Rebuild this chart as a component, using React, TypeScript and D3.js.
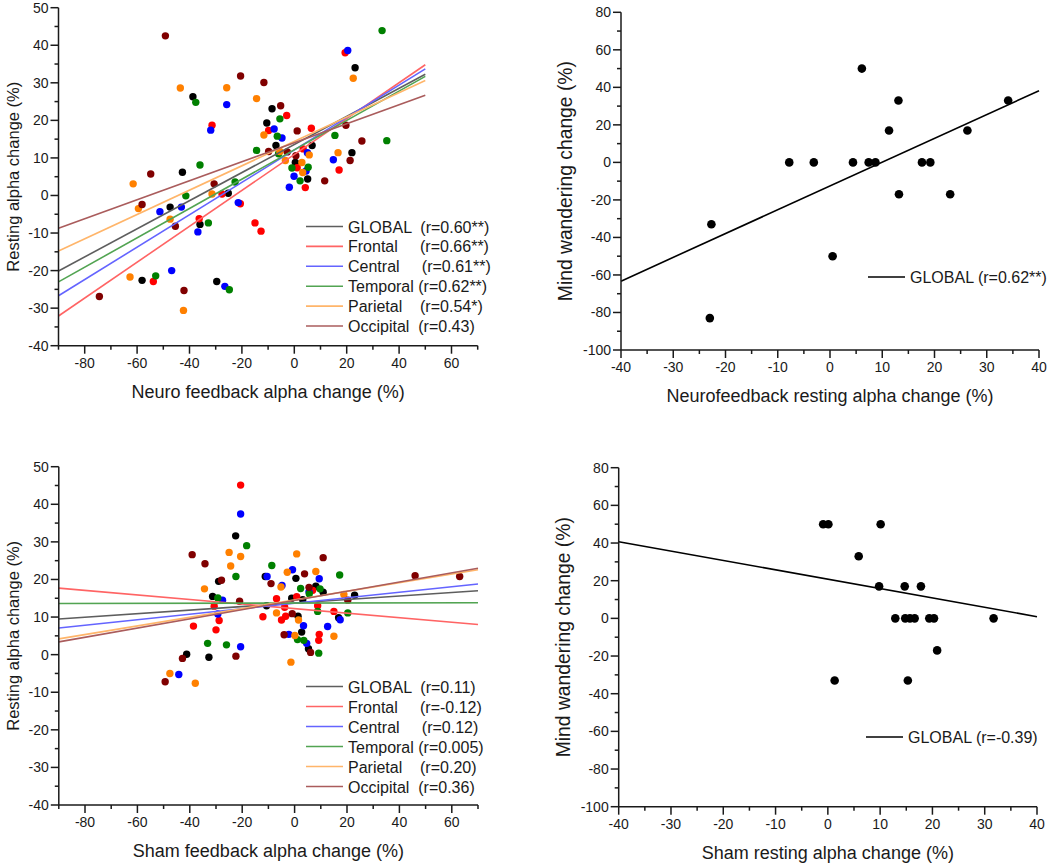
import * as d3 from 'd3'

const FONT = '"Liberation Sans", Arial, Helvetica, sans-serif'

// regions and colours
const regionNames = ['GLOBAL', 'Frontal', 'Central', 'Temporal', 'Parietal', 'Occipital']
const dotColors = ['#000000', '#ff0000', '#0000ff', '#008000', '#ff8000', '#800000']
const fitColors = ['#5e5e5e', '#ff6464', '#6464ff', '#52a452', '#ffb56a', '#aa5c5c']

// legend labels (spaces kept as in the original)
const nfLegend = [
  'GLOBAL  (r=0.60**)',
  'Frontal     (r=0.66**)',
  'Central     (r=0.61**)',
  'Temporal (r=0.62**)',
  'Parietal    (r=0.54*)',
  'Occipital  (r=0.43)',
]
const shLegend = [
  'GLOBAL  (r=0.11)',
  'Frontal     (r=-0.12)',
  'Central     (r=0.12)',
  'Temporal (r=0.005)',
  'Parietal    (r=0.20)',
  'Occipital  (r=0.36)',
]

// neurofeedback: [feedback alpha change, resting alpha change]
const nfGlobal = [[-38.7, 26.3], [-42.7, 6.2], [-8.5, 23.1], [-10.5, 19.3], [-7.0, 13.3], [6.8, 13.3], [0.4, 8.8], [5.1, 4.4], [22.0, 11.4], [23.2, 34.0], [-47.4, -3.1], [-36.0, -7.7], [-58.1, -22.6], [-25.2, 0.6], [-29.6, -22.9]]
const nfFrontal = [[-31.4, 18.7], [-2.9, 21.3], [-9.8, 17.3], [6.5, 17.9], [3.4, 12.4], [1.1, 7.4], [4.2, 2.1], [17.1, 6.8], [19.4, 38.0], [-36.3, -6.2], [-53.8, -22.9], [-27.6, 0.4], [-20.6, -2.2], [-15.0, -7.3], [-12.7, -9.5]]
const nfCentral = [[-25.8, 24.2], [-7.7, 17.7], [-4.7, 15.3], [-31.9, 17.4], [5.0, 11.4], [4.5, 6.5], [-0.1, 5.1], [-1.9, 2.2], [20.4, 38.6], [14.9, 9.5], [-51.3, -4.3], [-43.1, -3.1], [-36.8, -9.7], [-46.8, -20.0], [-21.4, -1.9], [-26.5, -24.2]]
const nfTemporal = [[-37.6, 24.8], [-36.0, 8.1], [-5.5, 20.4], [-6.5, 15.8], [-14.4, 12.0], [-6.0, 11.1], [-0.9, 7.3], [5.3, 7.5], [2.2, 3.9], [-22.6, 3.6], [15.5, 16.0], [33.5, 43.9], [35.3, 14.6], [-41.4, -0.1], [-52.9, -21.4], [-32.8, -7.3], [-24.8, -25.1]]
const nfParietal = [[-43.5, 28.6], [-61.5, 3.1], [-25.8, 28.7], [-14.4, 25.8], [-11.6, 16.1], [-5.5, 11.7], [5.7, 10.8], [2.9, 8.8], [-3.4, 9.3], [3.2, 6.1], [16.7, 11.4], [22.5, 31.2], [-59.5, -3.5], [-47.4, -6.3], [-62.7, -21.7], [-42.3, -30.6], [-31.4, 0.4]]
const nfOccipital = [[-49.2, 42.5], [-54.8, 5.7], [-20.5, 31.8], [-11.6, 30.1], [-5.2, 23.9], [-9.8, 11.7], [-2.7, 11.6], [1.1, 17.2], [0.6, 10.6], [11.6, 3.9], [-30.6, 3.1], [21.3, 9.3], [19.7, 18.7], [25.8, 14.5], [-58.1, -2.4], [-45.4, -8.2], [-42.1, -25.3], [-74.4, -26.9]]

// sham
const shGlobal = [[-22.5, 31.6], [0.5, 20.3], [-11.2, 20.8], [-29.0, 19.5], [8.1, 18.2], [10.9, 16.6], [-31.3, 15.5], [-1.1, 15.0], [3.1, 14.6], [22.9, 15.8], [-10.7, 13.0], [1.3, 10.2], [16.8, 9.8], [-32.7, -0.7], [-41.2, 0.1], [2.7, 6.0], [5.3, 1.6]]
const shFrontal = [[-38.6, 7.6], [-20.6, 45.1], [6.9, 17.1], [-30.7, 12.9], [-28.8, 9.1], [-6.9, 14.9], [0.8, 15.4], [-3.8, 12.6], [-12.1, 10.1], [-3.4, 10.2], [-5.0, 9.2], [8.8, 13.0], [15.0, 11.5], [-30.0, 6.6], [9.4, 5.4], [9.2, 3.8]]
const shCentral = [[-20.6, 37.4], [-0.8, 22.6], [9.4, 20.2], [-10.5, 20.8], [-4.8, 18.4], [5.5, 16.7], [-27.5, 14.5], [-29.3, 10.8], [3.4, 7.7], [17.4, 9.3], [12.6, 7.5], [-20.6, 2.1], [-44.2, -5.3], [-2.2, 5.4], [4.6, 3.0]]
const shTemporal = [[-18.3, 29.0], [-22.4, 20.8], [-8.7, 23.7], [17.2, 21.2], [2.3, 17.6], [9.7, 17.5], [5.6, 16.2], [-29.3, 15.1], [8.8, 11.5], [20.3, 11.1], [-33.2, 3.0], [-26.0, 2.6], [1.1, 4.0], [3.5, 3.8], [9.2, 0.4]]
const shParietal = [[-25.0, 27.2], [-20.6, 26.1], [-24.4, 23.6], [0.8, 26.8], [-2.8, 21.9], [8.1, 22.1], [-5.2, 18.0], [-34.4, 17.5], [18.8, 16.0], [-6.9, 11.1], [1.5, 9.2], [-47.6, -5.0], [-37.9, -7.6], [0.1, 5.1], [-1.4, -2.0], [15.0, 4.9]]
const shOccipital = [[-39.1, 26.6], [-34.2, 24.2], [10.9, 25.8], [3.8, 21.5], [-27.9, 19.8], [-9.0, 18.9], [5.5, 17.9], [-21.0, 14.2], [20.3, 14.5], [-0.9, 10.9], [-22.4, -0.4], [-42.8, -1.0], [-49.4, -7.2], [-4.0, 5.3], [6.1, 0.6], [46.0, 21.0], [63.0, 20.8]]

// regression lines (value at first and last x)
const nfFitX = [-90, 50]
const nfFitStart = [-20.1, -32.1, -26.7, -23.0, -14.8, -8.7]
const nfFitEnd = [32.3, 34.8, 33.7, 31.7, 30.6, 26.7]
const shFitX = [-90, 70]
const shFitStart = [9.5, 17.7, 7.1, 13.6, 4.2, 3.4]
const shFitEnd = [17.0, 8.0, 18.8, 13.8, 22.6, 23.0]

// mind wandering
const nfMindX = [-7.8, -3.1, 4.4, 6.1, 7.4, 8.7, 11.3, 13.1, 13.2, 17.6, 19.2, 23.0, 26.3, 34.1, -22.7, -23.0, 0.5]
const nfMindY = [0, 0, 0, 50, 0, 0, 17, 33, -17, 0, 0, -17, 17, 33, -33, -83, -50]
const shMindX = [-0.9, 0.1, 10.1, 5.9, 9.8, 14.7, 17.8, 12.9, 14.8, 15.7, 16.6, 19.4, 20.3, 31.7, 20.9, 1.3, 15.3]
const shMindY = [50, 50, 50, 33, 17, 17, 17, 0, 0, 0, 0, 0, 0, 0, -17, -33, -33]
const mindFitX = [-40, 40]
const nfMindFit = [-63.3, 38.2]
const shMindFit = [40.7, 0.9]

// ticks
const leftXTicks = [-80, -60, -40, -20, 0, 20, 40, 60]
const leftYTicks = [-40, -30, -20, -10, 0, 10, 20, 30, 40, 50]
const rightXTicks = [-40, -30, -20, -10, 0, 10, 20, 30, 40]
const rightYTicks = [-100, -80, -60, -40, -20, 0, 20, 40, 60, 80]

type Pt = number[]
interface Series { color: string; points: Pt[] }
interface Fit { color: string; xs: number[]; ys: number[] }

interface PanelProps {
  box: { left: number; right: number; top: number; bottom: number }
  xDomain: [number, number]
  yDomain: [number, number]
  xTicks: number[]
  xMinor: number
  yTicks: number[]
  yMinor: number
  series: Series[]
  fits: Fit[]
  r: number
  xTitle: string
  yTitle: string
  yTitleX: number
  yTitleSize: number
  legend: { x: number; y: number; labels: string[]; colors: string[]; step: number }
}

function Panel(p: PanelProps) {
  const x = d3.scaleLinear().domain(p.xDomain).range([p.box.left, p.box.right])
  const y = d3.scaleLinear().domain(p.yDomain).range([p.box.bottom, p.box.top])
  const xMinorTicks = d3.range(p.xDomain[0], p.xDomain[1] + 0.001, p.xMinor).filter((v) => !p.xTicks.includes(v))
  const yMinorTicks = d3.range(p.yDomain[0], p.yDomain[1] + 0.001, p.yMinor).filter((v) => !p.yTicks.includes(v))
  const line = d3
    .line<number[]>()
    .x((d) => x(d[0]))
    .y((d) => y(d[1]))
  const yMid = (p.box.top + p.box.bottom) / 2
  const xMid = (p.box.left + p.box.right) / 2

  return (
    <g fontFamily={FONT}>
      {/* points */}
      {p.series.map((s, i) => (
        <g key={i} fill={s.color}>
          {s.points.map((d, j) => (
            <circle key={j} cx={x(d[0])} cy={y(d[1])} r={p.r} />
          ))}
        </g>
      ))}
      {/* regression lines */}
      {p.fits.map((f, i) => (
        <path
          key={i}
          d={line(f.xs.map((v, k) => [v, f.ys[k]])) ?? ''}
          stroke={f.color}
          strokeWidth={1.6}
          fill='none'
        />
      ))}

      {/* axes */}
      <g stroke='#1a1a1a' strokeWidth={1.5}>
        <line x1={p.box.left} x2={p.box.right} y1={p.box.bottom} y2={p.box.bottom} />
        <line x1={p.box.left} x2={p.box.left} y1={p.box.top} y2={p.box.bottom} />
        {p.xTicks.map((t) => (
          <line key={t} x1={x(t)} x2={x(t)} y1={p.box.bottom} y2={p.box.bottom + 8} />
        ))}
        {xMinorTicks.map((t) => (
          <line key={t} x1={x(t)} x2={x(t)} y1={p.box.bottom} y2={p.box.bottom + 4} />
        ))}
        {p.yTicks.map((t) => (
          <line key={t} x1={p.box.left - 8} x2={p.box.left} y1={y(t)} y2={y(t)} />
        ))}
        {yMinorTicks.map((t) => (
          <line key={t} x1={p.box.left - 4} x2={p.box.left} y1={y(t)} y2={y(t)} />
        ))}
      </g>
      <g fontSize={14} fill='#1a1a1a'>
        {p.xTicks.map((t) => (
          <text key={t} x={x(t)} y={p.box.bottom + 22} textAnchor='middle'>
            {t}
          </text>
        ))}
        {p.yTicks.map((t) => (
          <text key={t} x={p.box.left - 10} y={y(t) + 5} textAnchor='end'>
            {t}
          </text>
        ))}
      </g>
      <text x={xMid} y={p.box.bottom + 52} textAnchor='middle' fontSize={18} fill='#1a1a1a'>
        {p.xTitle}
      </text>
      <text
        transform={`translate(${p.yTitleX},${yMid}) rotate(-90)`}
        textAnchor='middle'
        fontSize={p.yTitleSize}
        fill='#1a1a1a'
      >
        {p.yTitle}
      </text>

      {/* legend */}
      {p.legend.labels.map((lab, i) => {
        const ly = p.legend.y + i * p.legend.step
        return (
          <g key={i}>
            <line x1={p.legend.x} x2={p.legend.x + 37} y1={ly} y2={ly} stroke={p.legend.colors[i]} strokeWidth={1.6} />
            <text x={p.legend.x + 42} y={ly + 6} fontSize={16} fill='#1a1a1a' style={{ whiteSpace: 'pre' }}>
              {lab}
            </text>
          </g>
        )
      })}
    </g>
  )
}

export default function App() {
  const nfSeries = [nfGlobal, nfFrontal, nfCentral, nfTemporal, nfParietal, nfOccipital].map((pts, i) => ({
    color: dotColors[i],
    points: pts,
  }))
  const shSeries = [shGlobal, shFrontal, shCentral, shTemporal, shParietal, shOccipital].map((pts, i) => ({
    color: dotColors[i],
    points: pts,
  }))
  const nfFits = regionNames.map((_, i) => ({ color: fitColors[i], xs: nfFitX, ys: [nfFitStart[i], nfFitEnd[i]] }))
  const shFits = regionNames.map((_, i) => ({ color: fitColors[i], xs: shFitX, ys: [shFitStart[i], shFitEnd[i]] }))

  return (
    <svg
      width={1050}
      height={863}
      style={{ position: 'absolute', left: 0, top: 0, background: '#fff' }}
    >
      <Panel
        box={{ left: 58.5, right: 477.7, top: 7.7, bottom: 345.7 }}
        xDomain={[-90, 70]}
        yDomain={[-40, 50]}
        xTicks={leftXTicks}
        xMinor={10}
        yTicks={leftYTicks}
        yMinor={5}
        series={nfSeries}
        fits={nfFits}
        r={3.7}
        xTitle='Neuro feedback alpha change (%)'
        yTitle='Resting alpha change (%)'
        yTitleX={18.5}
        yTitleSize={16.5}
        legend={{ x: 306, y: 226.5, labels: nfLegend, colors: fitColors, step: 19.9 }}
      />
      <Panel
        box={{ left: 58.8, right: 478, top: 466.7, bottom: 805 }}
        xDomain={[-90, 70]}
        yDomain={[-40, 50]}
        xTicks={leftXTicks}
        xMinor={10}
        yTicks={leftYTicks}
        yMinor={5}
        series={shSeries}
        fits={shFits}
        r={3.7}
        xTitle='Sham feedback alpha change (%)'
        yTitle='Resting alpha change (%)'
        yTitleX={18.5}
        yTitleSize={16.5}
        legend={{ x: 306, y: 686.5, labels: shLegend, colors: fitColors, step: 20 }}
      />
      <Panel
        box={{ left: 621, right: 1039, top: 12.3, bottom: 350 }}
        xDomain={[-40, 40]}
        yDomain={[-100, 80]}
        xTicks={rightXTicks}
        xMinor={5}
        yTicks={rightYTicks}
        yMinor={10}
        series={[{ color: '#000', points: nfMindX.map((v, i) => [v, nfMindY[i]]) }]}
        fits={[{ color: '#000', xs: mindFitX, ys: nfMindFit }]}
        r={4.3}
        xTitle='Neurofeedback resting alpha change (%)'
        yTitle='Mind wandering change (%)'
        yTitleX={572}
        yTitleSize={19.3}
        legend={{ x: 868, y: 277, labels: ['GLOBAL (r=0.62**)'], colors: ['#000'], step: 20 }}
      />
      <Panel
        box={{ left: 618.7, right: 1037, top: 467.7, bottom: 806.7 }}
        xDomain={[-40, 40]}
        yDomain={[-100, 80]}
        xTicks={rightXTicks}
        xMinor={5}
        yTicks={rightYTicks}
        yMinor={10}
        series={[{ color: '#000', points: shMindX.map((v, i) => [v, shMindY[i]]) }]}
        fits={[{ color: '#000', xs: mindFitX, ys: shMindFit }]}
        r={4.3}
        xTitle='Sham resting alpha change (%)'
        yTitle='Mind wandering change (%)'
        yTitleX={570}
        yTitleSize={19.3}
        legend={{ x: 866, y: 737, labels: ['GLOBAL (r=-0.39)'], colors: ['#000'], step: 20 }}
      />
    </svg>
  )
}
